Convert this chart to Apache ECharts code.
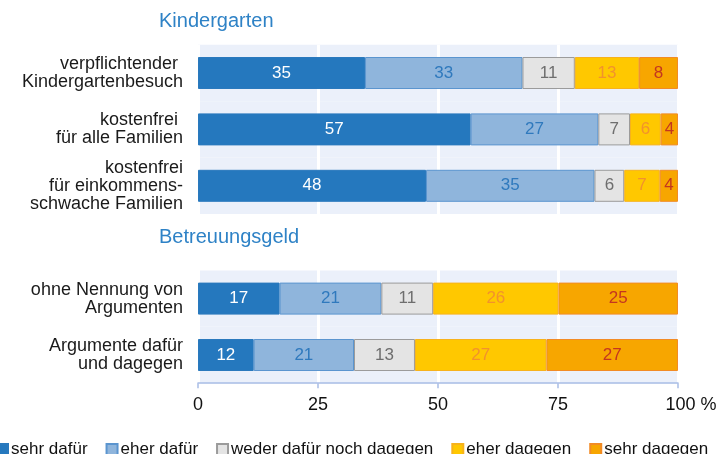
<!DOCTYPE html>
<html>
<head>
<meta charset="utf-8">
<title>Kindergarten / Betreuungsgeld</title>
<script src="https://cdn.jsdelivr.net/npm/echarts@6.0.0/dist/echarts.min.js"></script>
<style>
	html, body { margin: 0; padding: 0; background: #ffffff; }
	#chart { width: 722px; height: 454px; }
</style>
</head>
<body>
<div id="chart"></div>
<script>
// Zeilen der Grafik, die leere Zeile trennt die beiden Bloecke
const categories = [
	'verpflichtender \nKindergartenbesuch',
	'kostenfrei \nfür alle Familien',
	'kostenfrei\nfür einkommens-\nschwache Familien',
	' ',
	'ohne Nennung von\nArgumenten',
	'Argumente dafür\nund dagegen'
];
const groupTitles = ['Kindergarten', 'Betreuungsgeld'];
const seriesNames = ['sehr dafür', 'eher dafür', 'weder dafür noch dagegen', 'eher dagegen', 'sehr dagegen'];

// Anteile in % (Beschriftung = gerundet)
const sehrDafuer   = [34.8, 56.8, 47.5, '-', 17.0, 11.6];
const eherDafuer   = [32.8, 26.6, 35.1, '-', 21.2, 20.9];
const weder        = [10.9,  6.6,  6.2, '-', 10.8, 12.7];
const eherDagegen  = [13.4,  6.4,  7.4, '-', 26.1, 27.4];
const sehrDagegen  = [ 8.1,  3.6,  3.8, '-', 24.9, 27.4];

// hellblauer Hintergrund hinter den beiden Bloecken
const panelRows = [100, 100, 100, '-', 100, 100];
const xTicks = [0, 25, 50, 75, 100];

const seriesValues = [sehrDafuer, eherDafuer, weder, eherDagegen, sehrDagegen];
const fills   = ['#2578be', '#8fb5dc', '#e4e4e4', '#ffc800', '#f7a600'];
const borders = ['#2a79bd', '#5b95cf', '#9b9b9b', '#f7b21c', '#f28b25'];
const labelColors = ['#ffffff', '#2f79bd', '#6e6e6e', '#f2922c', '#c4361f'];

const FONT = '"Liberation Sans", Arial, Helvetica, sans-serif';

const chart = echarts.init(document.getElementById('chart'), null, {renderer: 'canvas'});

const dataSeries = seriesValues.map((vals, i) => ({
	name: seriesNames[i],
	type: 'bar',
	stack: 'total',
	yAxisIndex: 0,
	barWidth: 32,
	z: 2,
	data: vals,
	itemStyle: {color: fills[i], borderColor: borders[i], borderWidth: 1},
	label: {
		show: true,
		position: 'inside',
		formatter: p => Math.round(p.value),
		color: labelColors[i],
		fontSize: 17,
		fontFamily: FONT
	},
	emphasis: {disabled: true}
}));

const option = {
	animation: false,
	textStyle: {fontFamily: FONT},
	title: [
		{text: groupTitles[0], left: 159, top: 11, padding: 0,
			textStyle: {color: '#2e82c6', fontSize: 20, fontWeight: 'normal', fontFamily: FONT}},
		{text: groupTitles[1], left: 159, top: 227, padding: 0,
			textStyle: {color: '#2e82c6', fontSize: 20, fontWeight: 'normal', fontFamily: FONT}}
	],
	legend: {
		data: seriesNames,
		left: -4,
		top: 441,
		width: 780,
		padding: 0,
		icon: 'rect',
		itemWidth: 11,
		itemHeight: 11,
		itemGap: 18,
		textStyle: {fontSize: 17, color: '#111111', fontFamily: FONT, padding: [0, 0, 0, -2]}
	},
	grid: {left: 198, right: 44, top: 44.8, bottom: 70.8, containLabel: false, outerBoundsMode: 'none'},
	xAxis: {
		type: 'value',
		min: xTicks[0],
		max: xTicks[xTicks.length - 1],
		interval: 25,
		z: 1,
		axisLine: {show: true, lineStyle: {color: '#a9bde6', width: 1.5}},
		axisTick: {show: true, length: 5, lineStyle: {color: '#a9bde6', width: 1.5}},
		splitLine: {show: true, lineStyle: {color: '#ffffff', width: 3}},
		axisLabel: {
			color: '#111111',
			fontSize: 18,
			margin: 13,
			formatter: v => v === 100 ? '{pad| }100 %' : String(v),
			rich: {pad: {width: 26}}
		}
	},
	yAxis: [
		{
			type: 'category',
			data: categories,
			inverse: true,
			axisLine: {show: false},
			axisTick: {show: false},
			splitLine: {show: false},
			axisLabel: {
				color: '#1a1a1a',
				fontSize: 18,
				lineHeight: 18,
				margin: 15,
				align: 'right'
			}
		},
		{
			type: 'category',
			data: categories,
			inverse: true,
			show: false
		}
	],
	series: [
		{
			name: 'panel',
			type: 'bar',
			yAxisIndex: 1,
			barWidth: '100%',
			z: 0,
			silent: true,
			data: panelRows,
			itemStyle: {color: '#ebf0fa'},
			label: {show: false}
		}
	].concat(dataSeries)
};

chart.setOption(option);
</script>
</body>
</html>
